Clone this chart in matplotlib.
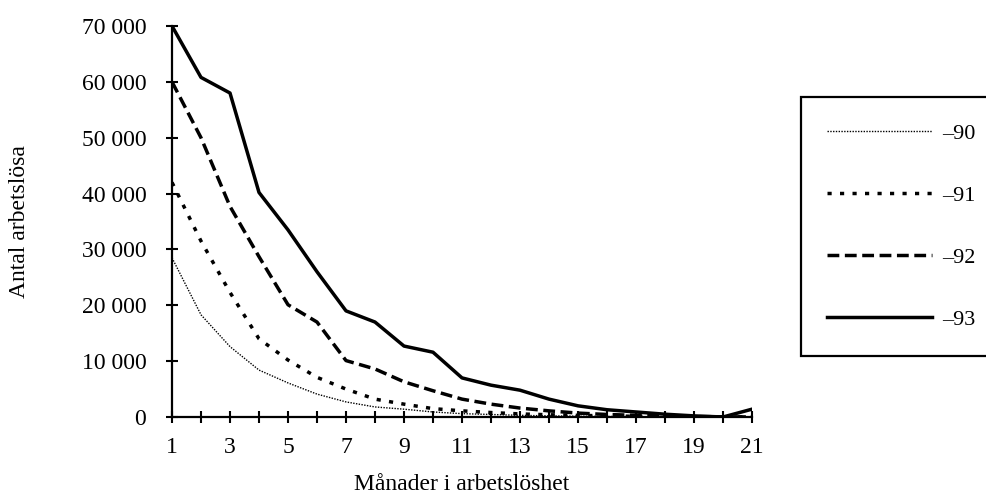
import matplotlib
matplotlib.use("Agg")
import matplotlib.pyplot as plt
from matplotlib.ticker import FuncFormatter, MultipleLocator

plt.rcParams['font.family'] = ['Liberation Serif', 'DejaVu Serif']

# Månader i arbetslöshet 1..21
months = list(range(1, 22))

# Antal arbetslösa per år
y90 = [28500, 18300, 12600, 8400, 6100, 4100, 2700, 1800, 1400, 900,
       600, 450, 300, 200, 150, 100, 60, 40, 20, 0, 0]
y91 = [42000, 31500, 22300, 14000, 10200, 7100, 5000, 3200, 2300, 1500,
       1100, 800, 550, 400, 300, 200, 120, 80, 40, 20, 0]
y92 = [60000, 50000, 37700, 28700, 20100, 17000, 10100, 8600, 6300, 4700,
       3200, 2300, 1600, 1100, 700, 450, 300, 150, 80, 40, 0]
y93 = [70000, 60800, 58000, 40200, 33500, 26000, 19000, 17000, 12700, 11600,
       7000, 5700, 4800, 3200, 2000, 1300, 900, 500, 200, 0, 1400]

labels = ['\u201390', '\u201391', '\u201392', '\u201393']

fig = plt.figure(figsize=(9.86, 4.98), dpi=100)
ax = fig.add_axes([172/986, 1 - 417/498, 580/986, 391/498])

ax.plot(months, y90, color='black', lw=1.0, linestyle=(0, (1, 1)), label=labels[0])
ax.plot(months, y91, color='black', lw=2.5, linestyle=(0, (1.2, 2.4)), label=labels[1])
ax.plot(months, y92, color='black', lw=2.5, linestyle=(0, (3.4, 1.6)), label=labels[2])
ax.plot(months, y93, color='black', lw=2.5, linestyle='-', label=labels[3])

ax.set_xlim(1, 21)
ax.set_ylim(0, 70000)
ax.xaxis.set_major_locator(MultipleLocator(1))
ax.yaxis.set_major_locator(MultipleLocator(10000))
ax.xaxis.set_major_formatter(FuncFormatter(lambda v, p: f"{int(v)}" if int(v) % 2 == 1 else ""))
ax.yaxis.set_major_formatter(FuncFormatter(lambda v, p: f"{int(v):,}".replace(",", " ")))

for s in ['top', 'right']:
    ax.spines[s].set_visible(False)
for s in ['left', 'bottom']:
    ax.spines[s].set_linewidth(1.6)

ax.tick_params(axis='both', direction='inout', length=9, width=1.5, labelsize=17)
ax.tick_params(axis='y', pad=14)
ax.tick_params(axis='x', pad=10)

ax.set_ylabel('Antal arbetslösa', fontsize=17)
ax.yaxis.set_label_coords(-0.245, 0.5)
ax.set_xlabel('Månader i arbetslöshet', fontsize=17)
ax.xaxis.set_label_coords(0.5, -0.145)

leg = fig.legend(loc='upper left', bbox_to_anchor=(801/986, 1 - 97/498),
                 bbox_transform=fig.transFigure, fontsize=16, frameon=True,
                 fancybox=False, framealpha=1, edgecolor='black',
                 handlelength=4.7, handletextpad=0.45, labelspacing=1.87,
                 borderpad=1.18, borderaxespad=0)
leg.get_frame().set_linewidth(1.6)

fig.savefig('out.png', dpi=100)
